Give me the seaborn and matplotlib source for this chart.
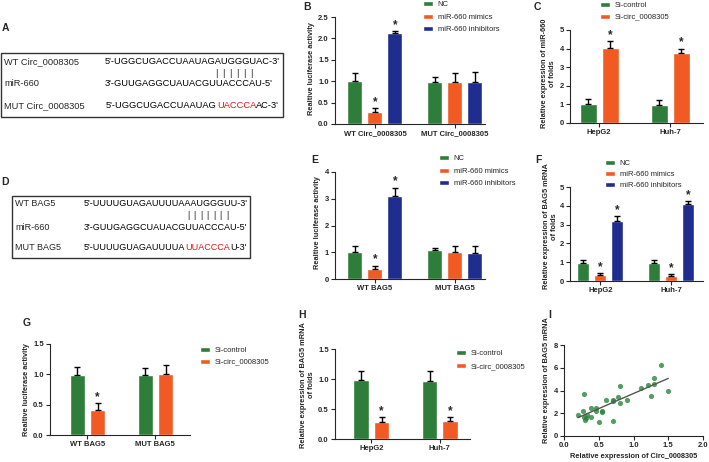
import matplotlib
matplotlib.use("Agg")
import numpy as np
import pandas as pd
import matplotlib.pyplot as plt
from matplotlib.patches import Rectangle
import seaborn as sns

# ---- data ----
mir_groups = ["NC", "miR-660 mimics", "miR-660 inhibitors"]
si_groups = ["Si-control", "Si-circ_0008305"]
cells = ["HepG2", "Huh-7"]

# B: luciferase, circ reporter
b_cats = ["WT Circ_0008305", "MUT Circ_0008305"]
b_mean = [[1.00, 0.98], [0.28, 0.98], [2.12, 0.98]]
b_err = [[0.20, 0.11], [0.09, 0.20], [0.05, 0.23]]
b_star = [[0, 0], [1, 0], [1, 0]]

# C: miR-660 expression
c_mean = [[1.03, 0.97], [4.05, 3.75]]
c_err = [[0.25, 0.24], [0.35, 0.25]]
c_star = [[0, 0], [1, 1]]

# E: luciferase, BAG5 reporter
e_cats = ["WT BAG5", "MUT BAG5"]
e_mean = [[1.00, 1.07], [0.37, 1.02], [3.10, 0.97]]
e_err = [[0.22, 0.10], [0.13, 0.22], [0.32, 0.25]]
e_star = [[0, 0], [1, 0], [1, 0]]

# F: BAG5 mRNA
f_mean = [[0.97, 0.95], [0.30, 0.25], [3.20, 4.10]]
f_err = [[0.14, 0.15], [0.13, 0.10], [0.25, 0.16]]
f_star = [[0, 0], [1, 1], [1, 1]]

# G: luciferase after si-circ
g_mean = [[0.99, 0.99], [0.41, 1.01]]
g_err = [[0.13, 0.12], [0.11, 0.15]]
g_star = [[0, 0], [1, 0]]

# H: BAG5 mRNA after si-circ
h_mean = [[0.99, 0.97], [0.28, 0.30]]
h_err = [[0.15, 0.17], [0.09, 0.07]]
h_star = [[0, 0], [1, 1]]

# I: correlation
circ_expr = [0.20, 0.27, 0.29, 0.29, 0.30, 0.31, 0.33, 0.39, 0.39, 0.46, 0.46, 0.50, 0.54,
             0.54, 0.60, 0.70, 0.70, 0.70, 0.78, 0.80, 0.80, 0.90, 1.11, 1.21, 1.25, 1.30,
             1.30, 1.40, 1.50]
bag5_expr = [1.88, 2.20, 3.70, 1.64, 1.38, 1.55, 1.85, 2.50, 1.64, 2.50, 2.20, 1.20, 2.23,
             2.08, 3.17, 3.17, 3.05, 1.29, 3.43, 4.37, 2.90, 3.20, 4.20, 4.50, 3.55, 4.60,
             5.13, 6.20, 4.00]

GREEN, ORANGE, BLUE = "#2f7d3b", "#f15a22", "#1f2d8f"
TICK_FS, LAB_FS, LEG_FS = 5.5, 5.3, 5.5

sns.set_style("ticks")
plt.rcParams["font.family"] = ["Liberation Sans", "DejaVu Sans"]
plt.rcParams["font.size"] = 6
plt.rcParams["axes.linewidth"] = 0.8

W, H = 709, 462
fig = plt.figure(figsize=(W / 100, H / 100), dpi=100)


def px_axes(x0, y0, x1, y1):
    return fig.add_axes([x0 / W, 1 - y1 / H, (x1 - x0) / W, (y1 - y0) / H])


def style_ticks(ax):
    ax.tick_params(length=3, width=0.8, pad=1.5, labelsize=TICK_FS)
    for lab in ax.get_xticklabels() + ax.get_yticklabels():
        lab.set_fontweight("bold")
    sns.despine(ax=ax)


def bar_panel(ax, cats, hues, means, errs, stars, colors, width, gap,
              ymax, step, fmt, xlim, ylabel, label_y, leg_px, leg_space, lpad=2.5):
    rows = []
    for h, hue in enumerate(hues):
        for c, cat in enumerate(cats):
            rows.append({"cat": cat, "hue": hue, "val": means[h][c]})
    df = pd.DataFrame(rows)
    sns.barplot(data=df, x="cat", y="val", hue="hue", palette=colors, width=width,
                gap=gap, errorbar=None, saturation=1, ax=ax)
    bars = list(ax.containers)
    for h, cont in enumerate(bars):
        for c, p in enumerate(cont.patches):
            x = p.get_x() + p.get_width() / 2
            top = p.get_height()
            e = errs[h][c]
            ax.errorbar(x, top, yerr=[[0], [e]], fmt="none", ecolor="black",
                        elinewidth=1, capsize=2.5, capthick=1, zorder=1)
            if stars[h][c]:
                ax.text(x, top + e, "*", ha="center", va="bottom",
                        fontsize=8.5, fontweight="bold")
    leg = ax.get_legend()
    handles = leg.legend_handles
    labels = [t.get_text() for t in leg.get_texts()]
    leg.remove()
    ax.legend(handles, labels, loc="upper left", bbox_to_anchor=(leg_px[0] / W, 1 - leg_px[1] / H),
              bbox_transform=fig.transFigure, frameon=False, fontsize=LEG_FS, borderpad=0,
              borderaxespad=0, handlelength=1.3, handleheight=0.65, handletextpad=0.6,
              labelspacing=leg_space)
    ax.set_ylim(0, ymax)
    ax.set_yticks(np.arange(0, ymax + step / 2, step))
    ax.yaxis.set_major_formatter(matplotlib.ticker.FormatStrFormatter(fmt))
    ax.set_xlim(*xlim)
    ax.set_xlabel("")
    ax.set_ylabel(ylabel, fontsize=LAB_FS, fontweight="bold", labelpad=lpad)
    ax.yaxis.label.set_y(label_y)
    style_ticks(ax)


# ---- B ----
axB = px_axes(335, 17, 485, 124)
bar_panel(axB, b_cats, mir_groups, b_mean, b_err, b_star, [GREEN, ORANGE, BLUE],
          0.75, 0.25, 2.5, 0.5, "%.1f", (-0.5, 1.38), "Realtive luciferase activity", 0.52,
          (423, 1), 0.7)

# ---- C ----
axC = px_axes(570, 30, 703, 123)
bar_panel(axC, cells, si_groups, c_mean, c_err, c_star, [GREEN, ORANGE],
          0.62, 0.23, 5, 1, "%d", (-0.41, 1.46),
          "Relative expression of miR-660\nof folds", 0.53, (600, 2), 0.56)

# ---- E ----
axE = px_axes(335, 172, 485, 279)
bar_panel(axE, e_cats, mir_groups, e_mean, e_err, e_star, [GREEN, ORANGE, BLUE],
          0.75, 0.25, 4, 1, "%d", (-0.5, 1.38), "Realtive luciferase activity", 0.53,
          (439, 155), 0.7)

# ---- F ----
axF = px_axes(570, 187, 703, 281)
bar_panel(axF, cells, mir_groups, f_mean, f_err, f_star, [GREEN, ORANGE, BLUE],
          0.72, 0.3, 5, 1, "%d", (-0.43, 1.45),
          "Relative expression of BAG5 mRNA\nof folds", 0.58, (605, 160), 0.5, lpad=1)

# ---- G ----
axG = px_axes(50, 344, 190, 435)
bar_panel(axG, e_cats, si_groups, g_mean, g_err, g_star, [GREEN, ORANGE],
          0.6, 0.25, 1.5, 0.5, "%.1f", (-0.55, 1.51), "Realtive luciferase activity", 0.5,
          (200, 347), 0.56)

# ---- H ----
axH = px_axes(335, 349, 470, 439)
bar_panel(axH, cells, si_groups, h_mean, h_err, h_star, [GREEN, ORANGE],
          0.6, 0.25, 1.5, 0.5, "%.1f", (-0.53, 1.44),
          "Relative expression of BAG5 mRNA\nof folds", 0.6, (456, 350), 0.7)

# ---- I ----
axI = px_axes(564, 345, 703, 436)
sns.regplot(x=circ_expr, y=bag5_expr, ci=None, ax=axI,
            scatter_kws={"s": 14, "color": "#2a853a", "linewidths": 0},
            line_kws={"color": "#555555", "lw": 1})
axI.set_xlim(0, 2.0)
axI.set_ylim(0, 8)
axI.set_xticks([0, 0.5, 1.0, 1.5, 2.0])
axI.set_yticks([0, 2, 4, 6, 8])
axI.xaxis.set_major_formatter(matplotlib.ticker.FormatStrFormatter("%.1f"))
axI.set_xlabel("Relative expression of Circ_0008305", fontsize=LAB_FS, fontweight="bold", labelpad=3)
axI.set_ylabel("Relative expression of BAG5 mRNA", fontsize=LAB_FS, fontweight="bold", labelpad=2.5)
axI.yaxis.label.set_y(0.62)
style_ticks(axI)

# ---- sequence boxes A and D ----
axT = fig.add_axes([0, 0, 1, 1])
axT.set_xlim(0, W)
axT.set_ylim(H, 0)
axT.axis("off")


def seq_row(x, y, parts, fs):
    t = axT.text(x, y, parts[0][0], color=parts[0][1], fontsize=fs, va="center", ha="left")
    for txt, col in parts[1:]:
        t = axT.annotate(txt, xy=(1, 0.5), xycoords=t, va="center", ha="left",
                         color=col, fontsize=fs)


FA, FD = 6.7, 6.5
axT.add_patch(Rectangle((1, 53), 282, 64, fill=False, ec="#333333", lw=1))
axT.text(4, 62, "WT Circ_0008305", fontsize=FA, va="center")
axT.text(4, 83, "miR-660", fontsize=FA, va="center")
axT.text(4, 106, "MUT Circ_0008305", fontsize=FA, va="center")
seq_row(105, 62, [("5'-UGGCUGACCUAAUAGAUGGGUAC-3'", "black")], FA)
seq_row(105, 83, [("3'-GUUGAGGCUAUACGUUACCCAU-5'", "black")], FA)
seq_row(106, 106, [("5'-UGGCUGACCUAAUAG", "black"), ("UACCCA", "#e8141b"), ("AC-3'", "black")], FA)
for px in [216, 223, 230, 237, 244, 251]:
    axT.text(px, 73, "|", fontsize=FA, ha="center", va="center")

axT.add_patch(Rectangle((12, 196), 238, 62, fill=False, ec="#333333", lw=1))
axT.text(15, 204, "WT BAG5", fontsize=FD, va="center")
axT.text(15, 227, "miR-660", fontsize=FD, va="center")
axT.text(15, 247, "MUT BAG5", fontsize=FD, va="center")
seq_row(84, 204, [("5'-UUUUGUAGAUUUUAAAUGGGUU-3'", "black")], FD)
seq_row(84, 227, [("3'-GUUGAGGCUAUACGUUACCCAU-5'", "black")], FD)
seq_row(84, 247, [("5'-UUUUGUAGAUUUUA", "black"), ("UUACCCA", "#e8141b"), ("U-3'", "black")], FD)
for px in [188, 194.5, 201, 207.5, 214, 220.5, 227]:
    axT.text(px, 215, "|", fontsize=FD, ha="center", va="center")

# panel letters
for lab, x, y in [("A", 5, 28), ("B", 307, 7), ("C", 537, 7), ("D", 5, 182), ("E", 315, 160),
                  ("F", 538, 160), ("G", 27, 323), ("H", 302, 315), ("I", 550, 315)]:
    axT.text(x, y, lab, fontsize=7.5, fontweight="bold", ha="center", va="center")

fig.savefig("out.png", dpi=100)
